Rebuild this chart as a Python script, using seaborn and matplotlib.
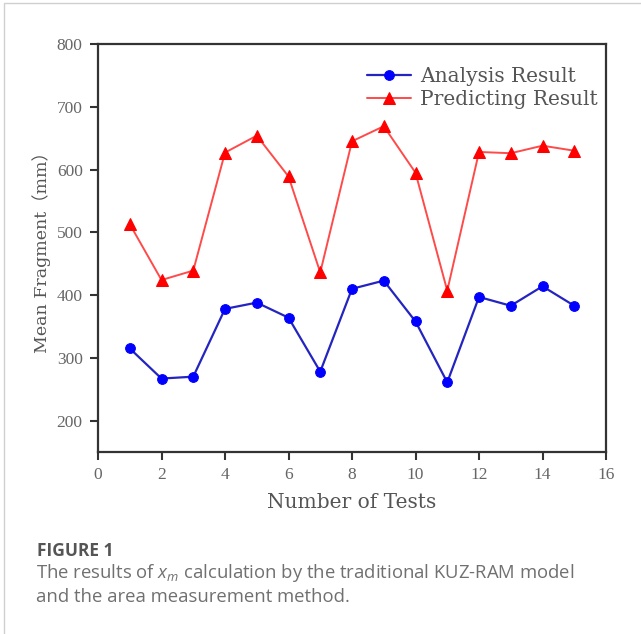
import matplotlib
matplotlib.use("Agg")
import matplotlib.pyplot as plt
from matplotlib.patches import Rectangle
import seaborn as sns
import pandas as pd

tests = list(range(1, 16))
analysis = [315, 267, 270, 378, 388, 364, 278, 410, 423, 358, 261, 397, 383, 414, 383]
predicting = [513, 424, 439, 627, 654, 589, 436, 645, 669, 595, 407, 628, 626, 638, 630]
series_names = ["Analysis Result", "Predicting Result"]
x_ticks = [0, 2, 4, 6, 8, 10, 12, 14, 16]
y_ticks = [200, 300, 400, 500, 600, 700, 800]

sns.set_theme(style="ticks")
plt.rcParams["mathtext.fontset"] = "custom"
plt.rcParams["mathtext.it"] = "Open Sans:italic"
plt.rcParams["mathtext.rm"] = "Open Sans"

serif = ["Liberation Serif", "Noto Sans CJK SC"]
label_font = ["DejaVu Serif", "Noto Sans CJK SC"]

fig = plt.figure(figsize=(6.41, 6.34), dpi=100)
ax = fig.add_axes([98/641, 1-452/634, (606-98)/641, (452-44)/634])

df = pd.DataFrame({"x": tests + tests,
                   "y": analysis + predicting,
                   "s": [series_names[0]]*15 + [series_names[1]]*15})

sns.lineplot(data=df[df.s == series_names[0]], x="x", y="y", ax=ax,
             color="#2424c0", lw=1.6, marker="o", markersize=7,
             markerfacecolor="blue", markeredgecolor="blue", label=series_names[0])
sns.lineplot(data=df[df.s == series_names[1]], x="x", y="y", ax=ax,
             color="#ff4a4a", lw=1.4, marker="^", markersize=8,
             markerfacecolor="red", markeredgecolor="red", label=series_names[1])

ax.set_xlim(0, 16)
ax.set_ylim(150, 800)
ax.set_xticks(x_ticks)
ax.set_yticks(y_ticks)
ax.set_xticklabels([str(t) for t in x_ticks], family=serif, fontsize=12.5, color="#666666")
ax.set_yticklabels([str(t) for t in y_ticks], family=serif, fontsize=12.5, color="#666666")
ax.tick_params(direction="out", length=6, width=1.5, color="#333333", pad=5)
ax.tick_params(top=False, right=False)
for sp in ax.spines.values():
    sp.set_visible(True)
    sp.set_color("#333333")
    sp.set_linewidth(1.6)

ax.set_xlabel("Number of Tests", family=label_font, fontsize=14.5, color="#555555", labelpad=7)
ax.set_ylabel("Mean Fragment（mm）", family=label_font, fontsize=12.5, color="#555555", labelpad=4)

leg = ax.legend(loc="upper left", bbox_to_anchor=((367-98)/508, (452-67)/408),
                frameon=False, prop={"family": label_font, "size": 14.5},
                handlelength=2.2, handletextpad=0.45, labelspacing=0.2,
                borderaxespad=0, borderpad=0)
for t in leg.get_texts():
    t.set_color("#555555")

fig.text(37/641, 1-556/634, "FIGURE 1", family="Open Sans", fontsize=12.5,
         fontweight="bold", color="#555555", va="baseline")
fig.text(36/641, 1-578/634, "The results of $x_m$ calculation by the traditional KUZ-RAM model",
         family="Open Sans", fontsize=13.3, color="#707070", va="baseline")
fig.text(36/641, 1-602/634, "and the area measurement method.",
         family="Open Sans", fontsize=13.3, color="#707070", va="baseline")

fig.patches.append(Rectangle((4/641, -0.1), 1.2, 1-3/634+0.1, transform=fig.transFigure,
                             fill=False, edgecolor="#d0d0d0", lw=1))

fig.savefig("out.png", dpi=100)
